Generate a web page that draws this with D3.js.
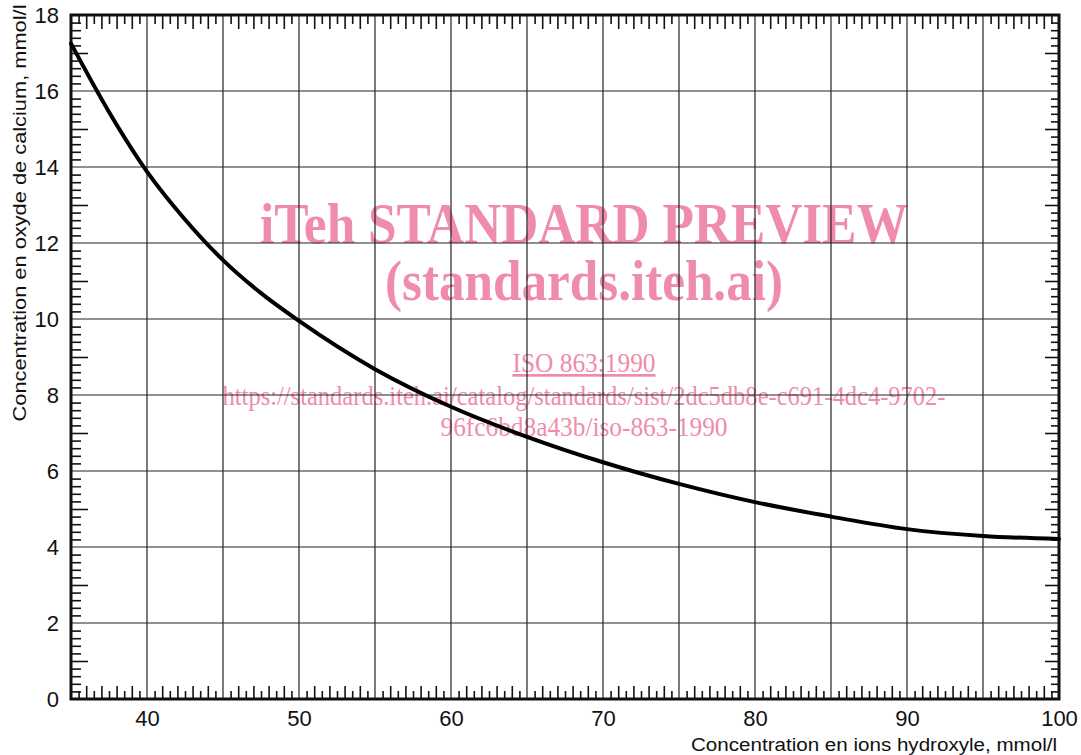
<!DOCTYPE html>
<html><head><meta charset="utf-8">
<script src="https://cdn.jsdelivr.net/npm/d3@7"></script>
<style>
html,body{margin:0;padding:0;background:#fff;}
svg{display:block;}
</style></head>
<body>
<svg id="chart" width="1081" height="755"></svg>
<script>
// Data
const hydroxyl = [35, 37.5, 40, 42.5, 45, 47.5, 50, 55, 60, 65, 70, 75, 80, 85, 90, 95, 100];
const calciumOxide = [17.25, 15.45, 13.88, 12.62, 11.55, 10.68, 9.95, 8.68, 7.69, 6.90, 6.23, 5.66, 5.18, 4.80, 4.47, 4.29, 4.21];
const xTickLabels = [40, 50, 60, 70, 80, 90, 100];
const yTickLabels = [0, 2, 4, 6, 8, 10, 12, 14, 16, 18];
const xTitle = "Concentration en ions hydroxyle, mmol/l";
const yTitle = "Concentration en oxyde de calcium, mmol/l";
const watermark = ["iTeh STANDARD PREVIEW", "(standards.iteh.ai)", "ISO 863:1990",
  "https://standards.iteh.ai/catalog/standards/sist/2dc5db8e-c691-4dc4-9702-", "96fc6bd8a43b/iso-863-1990"];

const L = 71, R = 1059, T = 15, B = 699;
const svg = d3.select("#chart");
const x = d3.scaleLinear().domain([35, 100]).range([L, R]);
const y = d3.scaleLinear().domain([0, 18]).range([B, T]);
const ink = "#111";
const font = "'Liberation Sans', Arial, sans-serif";

// watermark (behind)
const pink = "#ef8cab";
const wm = svg.append("g").attr("fill", pink).attr("font-family", "'Liberation Serif', 'Times New Roman', serif").attr("text-anchor", "middle");
wm.append("text").attr("x", 584).attr("y", 243).attr("font-size", 56).attr("font-weight", "bold")
  .attr("textLength", 648).attr("lengthAdjust", "spacingAndGlyphs").text(watermark[0]);
wm.append("text").attr("x", 584).attr("y", 300).attr("font-size", 56).attr("font-weight", "bold")
  .attr("textLength", 398).attr("lengthAdjust", "spacingAndGlyphs").text(watermark[1]);
wm.append("text").attr("x", 584).attr("y", 372).attr("font-size", 27)
  .attr("textLength", 143).attr("lengthAdjust", "spacingAndGlyphs").attr("text-decoration", "underline").text(watermark[2]);
wm.append("text").attr("x", 584).attr("y", 405).attr("font-size", 27)
  .attr("textLength", 723).attr("lengthAdjust", "spacingAndGlyphs").text(watermark[3]);
wm.append("text").attr("x", 584).attr("y", 436).attr("font-size", 27)
  .attr("textLength", 287).attr("lengthAdjust", "spacingAndGlyphs").text(watermark[4]);

// grid
const grid = svg.append("g").attr("stroke", "#222").attr("stroke-width", 1.2);
d3.range(40, 100, 5).forEach(v => grid.append("line").attr("x1", x(v)).attr("x2", x(v)).attr("y1", T).attr("y2", B));
d3.range(2, 18, 2).forEach(v => grid.append("line").attr("y1", y(v)).attr("y2", y(v)).attr("x1", L).attr("x2", R));

// minor ticks via d3 axes
const xMinor = d3.range(35, 100.01, 0.5).filter(v => v % 5 !== 0);
const yMinor = d3.range(0, 18.01, 0.2).map(v => Math.round(v * 10) / 10).filter(v => Math.abs(v % 2) > 1e-6);
function longX(v) { return Number.isInteger(v); }
function longY(v) { return Math.abs(v - Math.round(v)) < 1e-6; }

const gBottom = svg.append("g").attr("transform", `translate(0,${B})`)
  .call(d3.axisTop(x).tickValues(xMinor).tickFormat("").tickSizeOuter(0));
gBottom.selectAll(".tick line").attr("y2", d => longX(d) ? -13 : -8);
const gTop = svg.append("g").attr("transform", `translate(0,${T})`)
  .call(d3.axisBottom(x).tickValues(xMinor).tickFormat("").tickSizeOuter(0));
gTop.selectAll(".tick line").attr("y2", d => longX(d) ? 14 : 9);
const gLeft = svg.append("g").attr("transform", `translate(${L},0)`)
  .call(d3.axisRight(y).tickValues(yMinor).tickFormat("").tickSizeOuter(0));
gLeft.selectAll(".tick line").attr("x2", d => longY(d) ? 17 : 10);
const gRight = svg.append("g").attr("transform", `translate(${R},0)`)
  .call(d3.axisLeft(y).tickValues(yMinor).tickFormat("").tickSizeOuter(0));
gRight.selectAll(".tick line").attr("x2", d => longY(d) ? -14 : -8);
[gBottom, gTop, gLeft, gRight].forEach(g => {
  g.select(".domain").remove();
  g.selectAll(".tick line").attr("stroke", ink).attr("stroke-width", 1.6);
});

// tick labels
const xl = svg.append("g").attr("transform", `translate(0,${B})`)
  .call(d3.axisBottom(x).tickValues(xTickLabels).tickSize(0).tickPadding(11).tickSizeOuter(0));
xl.select(".domain").remove();
xl.selectAll("text").attr("font-family", font).attr("font-size", 22).attr("fill", ink);
const yl = svg.append("g").attr("transform", `translate(${L},0)`)
  .call(d3.axisLeft(y).tickValues(yTickLabels).tickSize(0).tickPadding(12).tickSizeOuter(0));
yl.select(".domain").remove();
yl.selectAll("text").attr("font-family", font).attr("font-size", 22).attr("fill", ink);

// border
svg.append("rect").attr("x", L).attr("y", T).attr("width", R - L).attr("height", B - T)
  .attr("fill", "none").attr("stroke", ink).attr("stroke-width", 3);

// curve
const pts = hydroxyl.map((h, i) => [h, calciumOxide[i]]);
svg.append("path").datum(pts)
  .attr("d", d3.line().x(d => x(d[0])).y(d => y(d[1])).curve(d3.curveMonotoneX))
  .attr("fill", "none").attr("stroke", "#000").attr("stroke-width", 4).attr("stroke-linecap", "round");

// titles
svg.append("text").attr("x", 1057).attr("y", 751).attr("text-anchor", "end")
  .attr("font-family", font).attr("font-size", 18).attr("fill", ink)
  .attr("textLength", 366).attr("lengthAdjust", "spacingAndGlyphs").text(xTitle);
svg.append("text").attr("transform", "translate(26,213) rotate(-90)").attr("text-anchor", "middle")
  .attr("font-family", font).attr("font-size", 18).attr("fill", ink)
  .attr("textLength", 417).attr("lengthAdjust", "spacingAndGlyphs").text(yTitle);
</script>
</body></html>
